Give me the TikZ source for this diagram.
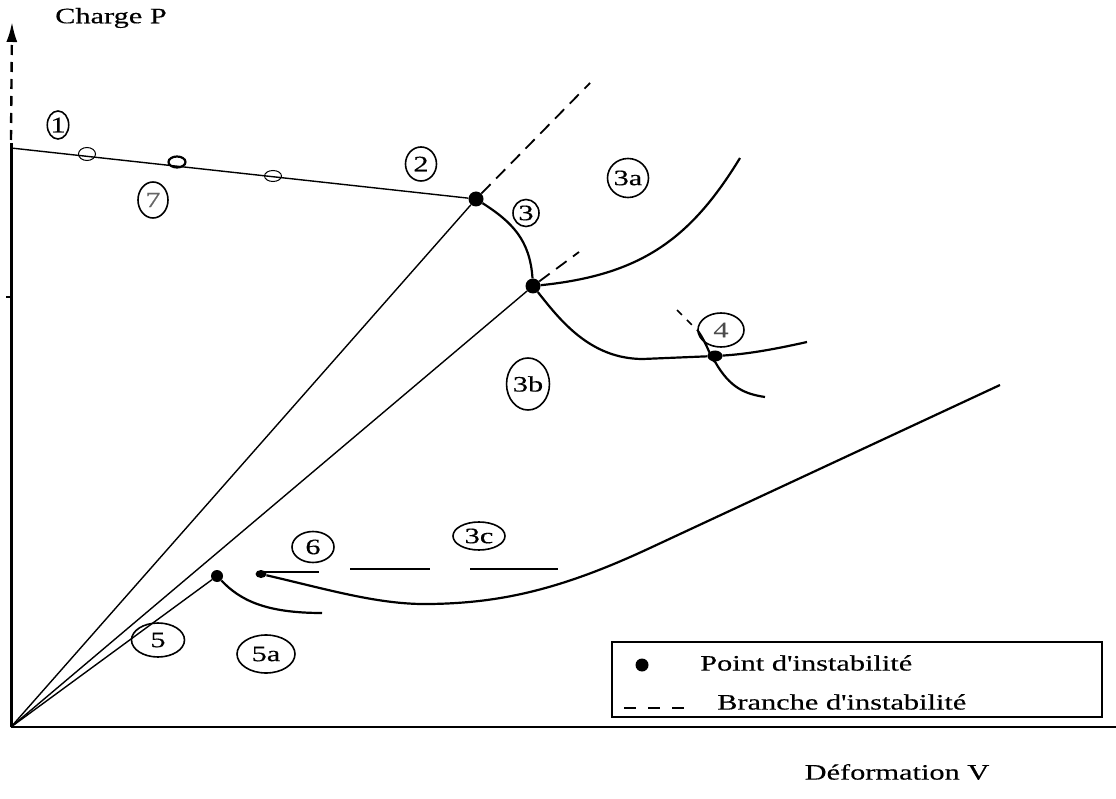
\documentclass[tikz,border=0pt]{standalone}
\usepackage{fontspec}
\setmainfont[FakeStretch=1.38,FakeBold=0.3,Ligatures=TeXOff]{Liberation Serif}
\usetikzlibrary{shapes.geometric,arrows.meta}
\begin{document}
\begin{tikzpicture}[x=1pt,y=-1pt,
  txt/.style={inner sep=0pt, font=\fontsize{22}{26}\selectfont},
  lbl/.style={ellipse, draw, line width=1.6pt, inner sep=0pt, font=\fontsize{22}{25}\selectfont},
  dot/.style={circle, fill=black, inner sep=0pt, minimum size=#1},
  dot/.default=14pt,
  hole/.style={ellipse, draw, line width=1pt, inner sep=0pt, minimum width=17pt, minimum height=13pt},
  thinline/.style={line width=1.4pt},
  curve/.style={line width=2.2pt},
  branch/.style={line width=1.8pt, dash pattern=on 13pt off 8pt}]
\useasboundingbox (0,0) rectangle (1116,799);
% axes
\coordinate (O) at (11,727);
\coordinate (Ytop) at (11,143);
\coordinate (Yarrow) at (12,22);
\coordinate (Xend) at (1116,727);
\draw[line width=2pt] (O) -- (Xend);
\draw[line width=3pt] (O) -- (Ytop);
\draw[line width=2.4pt, dash pattern=on 10pt off 7pt, -{Latex[length=20pt,width=11pt]}] (11,140) -- (Yarrow);
\coordinate (t1) at (6,297); \coordinate (t2) at (11,297);
\draw[line width=1.5pt] (t1) -- (t2);
\node[txt] (chP) at (111,18) {Charge P};
\node[txt] (defV) at (897,772) {Déformation V};
% instability points
\node[dot=15pt] (A) at (476,199) {};
\node[dot=15pt] (B) at (533,286) {};
\node[dot, minimum width=15pt, minimum height=11pt, ellipse] (C) at (715,356) {};
\node[dot=12pt] (D) at (217,576) {};
\node[ellipse, fill=black, inner sep=0pt, minimum width=11pt, minimum height=8pt] (E) at (261,574) {};
% branch 1 (horizontal-ish line)
\coordinate (P0) at (11,148);
\draw[thinline] (P0) -- (A);
\node[hole] (h1) at (87,154) {};
\node[hole, line width=2.2pt, minimum height=11pt] (h2) at (177,162) {};
\node[hole, minimum height=11pt] (h3) at (273,176) {};
% rays from origin
\draw[thinline] (O) -- (A);
\draw[thinline] (O) -- (B);
\draw[thinline] (O) -- (D);
% dashed instability branches
\coordinate (Ad) at (590,83);
\coordinate (Bd) at (579,252);
\draw[branch] (A) -- (Ad);
\draw[branch] (B) -- (Bd);
\coordinate (Cd1) at (677,310);
\coordinate (Cd2) at (698,331);
\draw[line width=1.5pt, dash pattern=on 7pt off 7pt] (Cd1) -- (Cd2);
% post-critical curves
\draw[curve] (A) .. controls (512,222) and (530,240) .. (B);
\coordinate (F3a) at (740,158);
\draw[curve] (B) .. controls (640,275) and (690,240) .. (F3a);
\coordinate (m1) at (643,359);
\coordinate (F3b) at (807,342);
\draw[curve] (B) .. controls (560,320) and (590,359) .. (m1) -- (C) .. controls (750,354) and (780,348) .. (F3b);
\coordinate (F4) at (765,397);
\draw[curve] (Cd2) .. controls (708,345) and (712,362) .. (C.south) .. controls (730,388) and (745,394) .. (F4);
\coordinate (F5) at (322,613);
\draw[curve] (D) .. controls (240,600) and (265,613) .. (F5);
\coordinate (m2) at (430,604);
\coordinate (m3) at (650,548);
\coordinate (F6) at (1000,385);
\draw[curve] (E) .. controls (330,590) and (380,605) .. (m2) .. controls (500,603) and (560,590) .. (m3) -- (F6);
% horizontal branches near 6 / 3c
\coordinate (s1a) at (262,572); \coordinate (s1b) at (319,572);
\coordinate (s2a) at (350,569); \coordinate (s2b) at (430,569);
\coordinate (s3a) at (470,569); \coordinate (s3b) at (558,569);
\draw[curve] (s1a) -- (s1b);
\draw[curve] (s2a) -- (s2b);
\draw[curve] (s3a) -- (s3b);
% labels
\node[lbl, minimum width=20pt, minimum height=28pt] (n1) at (58,125) {1};
\node[lbl, minimum width=30pt, minimum height=36pt, text=black!60] (n7) at (153,200) {7};
\node[lbl, minimum width=31pt, minimum height=34pt] (n2) at (421,164) {2};
\node[lbl, minimum width=26pt, minimum height=27pt] (n3) at (526,213) {3};
\node[lbl, minimum width=41pt, minimum height=39pt] (n3a) at (628,178) {3a};
\node[lbl, minimum width=46pt, minimum height=34pt, text=black!70] (n4) at (721,330) {4};
\node[lbl, minimum width=33pt, minimum height=52pt] (n3b) at (528,384) {3b};
\node[lbl, minimum width=52pt, minimum height=28pt] (n3c) at (479,536) {3c};
\node[lbl, minimum width=42pt, minimum height=31pt] (n6) at (313,547) {6};
\node[lbl, minimum width=53pt, minimum height=34pt] (n5) at (158,640) {5};
\node[lbl, minimum width=58pt, minimum height=38pt] (n5a) at (266,654) {5a};
% legend
\node[draw, line width=1.4pt, minimum width=490pt, minimum height=75pt, inner sep=0pt] (leg) at (857,679.5) {};
\node[dot=13pt] (ldot) at (642,665) {};
\node[txt, anchor=west] (lt1) at (700,663) {Point d'instabilité};
\coordinate (ld1) at (624,708); \coordinate (ld2) at (692,708);
\draw[line width=1.4pt, dash pattern=on 12pt off 12pt] (ld1) -- (ld2);
\node[txt, anchor=west] (lt2) at (717,702) {Branche d'instabilité};
\end{tikzpicture}
\end{document}
